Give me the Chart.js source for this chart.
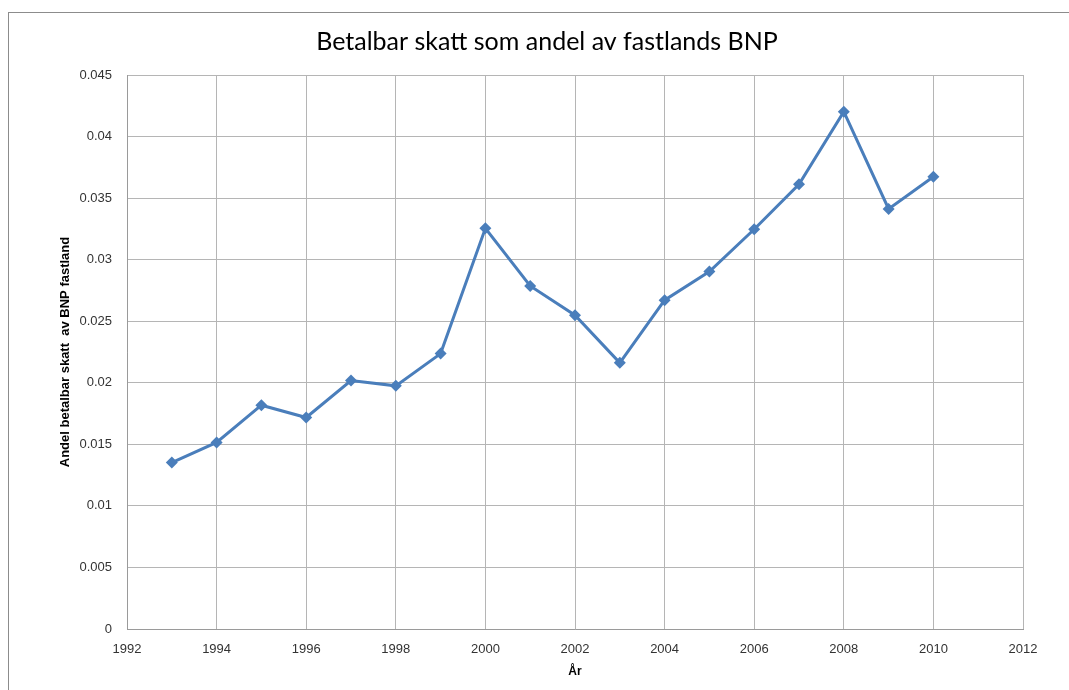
<!DOCTYPE html>
<html>
<head>
<meta charset="utf-8">
<script src="https://cdn.jsdelivr.net/npm/chart.js@4/dist/chart.umd.min.js"></script>
<style>
  html, body { margin: 0; padding: 0; background: #fff; }
  #wrap { width: 1069px; height: 690px; position: relative; }
</style>
</head>
<body>
<div id="wrap"><canvas id="chart"></canvas></div>
<script>
  // data
  var years = [1993, 1994, 1995, 1996, 1997, 1998, 1999, 2000, 2001, 2002,
               2003, 2004, 2005, 2006, 2007, 2008, 2009, 2010];
  var andel = [0.01352, 0.01515, 0.01818, 0.01718, 0.02018, 0.01975, 0.02237, 0.03255, 0.02787, 0.02549,
               0.02162, 0.02671, 0.02903, 0.03247, 0.03613, 0.04202, 0.03412, 0.03674];
  var xMin = 1992, xMax = 2012, xStep = 2;
  var yMin = 0, yMax = 0.045, yStep = 0.005;
  var titleText = 'Betalbar skatt som andel av fastlands BNP';

  var points = years.map(function (y, i) { return { x: y, y: andel[i] }; });

  // grey frame round the chart + the title (Excel puts it over the middle of the sheet)
  var frame = {
    id: 'frame',
    beforeDraw: function (chart) {
      var ctx = chart.ctx;
      ctx.save();
      ctx.strokeStyle = '#8c8c8c';
      ctx.lineWidth = 1;
      ctx.strokeRect(8.5, 12.5, chart.width + 20, chart.height + 20);
      ctx.fillStyle = '#000';
      ctx.font = '25px Lato';
      ctx.textAlign = 'center';
      ctx.textBaseline = 'middle';
      ctx.fillText(titleText, 547, 42);
      ctx.restore();
    }
  };

  var ctx = document.getElementById('chart').getContext('2d');
  new Chart(ctx, {
    type: 'line',
    data: {
      datasets: [{
        label: 'Andel',
        data: points,
        borderColor: '#4A7EBB',
        backgroundColor: '#4A7EBB',
        borderWidth: 3,
        pointStyle: 'rectRot',
        pointRadius: 6,
        pointBorderWidth: 0,
        tension: 0
      }]
    },
    options: {
      responsive: true,
      maintainAspectRatio: false,
      animation: false,
      layout: { padding: { left: 0, right: 46, top: 75, bottom: 0 } },
      plugins: {
        legend: { display: false },
        tooltip: { enabled: false },
        title: { display: false }
      },
      scales: {
        x: {
          type: 'linear',
          min: xMin,
          max: xMax,
          afterFit: function (s) { s.height = 61; },
          border: { color: '#9a9a9a' },
          grid: { color: '#b5b5b5', drawTicks: false },
          ticks: {
            stepSize: xStep,
            padding: 13,
            color: '#333',
            font: { family: 'Liberation Sans', size: 13 },
            callback: function (v) { return String(v); }
          },
          title: {
            display: true,
            text: 'År',
            color: '#000',
            font: { family: 'Liberation Sans', size: 12, weight: 'bold' },
            padding: { top: 0, bottom: 11 }
          }
        },
        y: {
          min: yMin,
          max: yMax,
          afterFit: function (s) { s.width = 127; },
          border: { color: '#9a9a9a' },
          grid: { color: '#b5b5b5', drawTicks: false },
          ticks: {
            stepSize: yStep,
            padding: 15,
            color: '#333',
            font: { family: 'Liberation Sans', size: 13 },
            callback: function (v) { return String(+v.toFixed(3)); }
          },
          title: {
            display: true,
            text: 'Andel betalbar skatt  av BNP fastland',
            color: '#000',
            font: { family: 'Liberation Sans', size: 13, weight: 'bold' },
            padding: { top: 58, bottom: 0 }
          }
        }
      }
    },
    plugins: [frame]
  });
</script>
</body>
</html>
